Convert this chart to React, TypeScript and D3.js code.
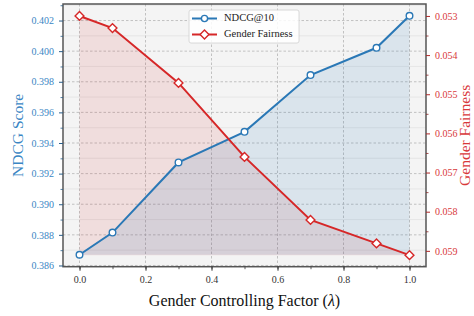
import React, { useEffect, useRef } from 'react';
import * as d3 from 'd3';

// values
const lambdas = [0.0, 0.1, 0.3, 0.5, 0.7, 0.9, 1.0];
const ndcg = [0.3867, 0.38815, 0.39273, 0.39473, 0.39844, 0.40022, 0.40231];
const fairness = [0.0530, 0.05331, 0.05471, 0.05660, 0.05821, 0.05881, 0.05911];
const xTicks = [0.0, 0.2, 0.4, 0.6, 0.8, 1.0];
const leftTicks = [0.386, 0.388, 0.39, 0.392, 0.394, 0.396, 0.398, 0.4, 0.402];
const rightTicks = [0.053, 0.054, 0.055, 0.056, 0.057, 0.058, 0.059];

const BLUE = '#2a78b6';
const RED = '#d62728';
const FONT = '"Liberation Serif", "Times New Roman", serif';

export default function App() {
  const ref = useRef<SVGSVGElement>(null);

  useEffect(() => {
    const width = 474, height = 316;
    const margin = { top: 4, right: 48, bottom: 49.3, left: 63 };
    const svg = d3.select(ref.current);
    svg.selectAll('*').remove();

    const x = d3.scaleLinear().domain([-0.05, 1.05]).range([margin.left, width - margin.right]);
    const yL = d3.scaleLinear().domain([0.38592, 0.40308]).range([height - margin.bottom, margin.top]);
    const yR = d3.scaleLinear().domain([0.052695, 0.059405]).range([margin.top, height - margin.bottom]);

    const x0 = margin.left, x1 = width - margin.right;
    const y0 = margin.top, y1 = height - margin.bottom;

    // background
    svg.append('rect').attr('x', x0).attr('y', y0).attr('width', x1 - x0).attr('height', y1 - y0).attr('fill', '#f4f4f4');

    // minor horizontal grid (left axis)
    const minorL = d3.range(0.387, 0.4031, 0.002);
    svg.append('g').selectAll('line').data(minorL).join('line')
      .attr('x1', x0).attr('x2', x1)
      .attr('y1', d => yL(d)).attr('y2', d => yL(d))
      .attr('stroke', '#e2e2e2').attr('stroke-width', 0.8);

    // major grid dashed
    const grid = svg.append('g').attr('stroke', '#b4b4b4').attr('stroke-width', 0.8).attr('stroke-dasharray', '2.5,2');
    grid.selectAll('line.h').data(leftTicks).join('line').attr('class', 'h')
      .attr('x1', x0).attr('x2', x1).attr('y1', d => yL(d)).attr('y2', d => yL(d));
    grid.selectAll('line.v').data(xTicks).join('line').attr('class', 'v')
      .attr('y1', y0).attr('y2', y1).attr('x1', d => x(d)).attr('x2', d => x(d));

    // fills
    const blueArea = d3.area<number>().x((d, i) => x(lambdas[i])).y0(yL(d3.min(ndcg)!)).y1(d => yL(d));
    const redArea = d3.area<number>().x((d, i) => x(lambdas[i])).y0(yR(d3.max(fairness)!)).y1(d => yR(d));
    svg.append('path').datum(fairness).attr('d', redArea).attr('fill', RED).attr('fill-opacity', 0.11);
    svg.append('path').datum(ndcg).attr('d', blueArea).attr('fill', '#1f77b4').attr('fill-opacity', 0.12);

    // lines
    const lineL = d3.line<number>().x((d, i) => x(lambdas[i])).y(d => yL(d));
    const lineR = d3.line<number>().x((d, i) => x(lambdas[i])).y(d => yR(d));
    svg.append('path').datum(ndcg).attr('d', lineL).attr('fill', 'none').attr('stroke', BLUE).attr('stroke-width', 2);
    svg.append('path').datum(fairness).attr('d', lineR).attr('fill', 'none').attr('stroke', RED).attr('stroke-width', 2);

    // markers
    svg.append('g').selectAll('circle').data(ndcg).join('circle')
      .attr('cx', (d, i) => x(lambdas[i])).attr('cy', d => yL(d)).attr('r', 3.3)
      .attr('fill', 'white').attr('stroke', BLUE).attr('stroke-width', 1.4);
    const diamond = d3.symbol().type(d3.symbolDiamond2).size(50);
    svg.append('g').selectAll('path').data(fairness).join('path')
      .attr('d', diamond)
      .attr('transform', (d, i) => `translate(${x(lambdas[i])},${yR(d)})`)
      .attr('fill', 'white').attr('stroke', RED).attr('stroke-width', 1.4);

    // frame
    svg.append('rect').attr('x', x0).attr('y', y0).attr('width', x1 - x0).attr('height', y1 - y0)
      .attr('fill', 'none').attr('stroke', '#555').attr('stroke-width', 1.5);

    // x axis
    const xAxis = svg.append('g').attr('transform', `translate(0,${y1})`);
    xAxis.call(d3.axisBottom(x).tickValues(d3.range(0.0, 1.05, 0.1)).tickSize(2.5).tickFormat(() => ''))
      .call(g => g.select('.domain').remove())
      .call(g => g.selectAll('line').attr('stroke', '#333').attr('stroke-width', 0.8));
    xAxis.append('g').call(d3.axisBottom(x).tickValues(xTicks).tickSize(4).tickPadding(5).tickFormat(d3.format('.1f')))
      .call(g => g.select('.domain').remove())
      .call(g => g.selectAll('line').attr('stroke', '#333').attr('stroke-width', 1))
      .call(g => g.selectAll('text').attr('fill', '#333').style('font-size', '10px').style('font-family', FONT));

    // left axis
    const lAxis = svg.append('g').attr('transform', `translate(${x0},0)`);
    lAxis.call(d3.axisLeft(yL).tickValues(d3.range(0.387, 0.4031, 0.002)).tickSize(2.5).tickFormat(() => ''))
      .call(g => g.select('.domain').remove())
      .call(g => g.selectAll('line').attr('stroke', '#2b5f8a').attr('stroke-width', 0.8));
    lAxis.append('g').call(d3.axisLeft(yL).tickValues(leftTicks).tickSize(4).tickPadding(5).tickFormat(d3.format('.3f')))
      .call(g => g.select('.domain').remove())
      .call(g => g.selectAll('line').attr('stroke', '#2b5f8a').attr('stroke-width', 1))
      .call(g => g.selectAll('text').attr('fill', '#3a86c4').style('font-size', '10px').style('font-family', FONT));

    // right axis
    const rAxis = svg.append('g').attr('transform', `translate(${x1},0)`);
    rAxis.call(d3.axisRight(yR).tickValues(d3.range(0.0525, 0.0594, 0.001)).tickSize(2.5).tickFormat(() => ''))
      .call(g => g.select('.domain').remove())
      .call(g => g.selectAll('line').attr('stroke', '#8a2a2a').attr('stroke-width', 0.8));
    rAxis.append('g').call(d3.axisRight(yR).tickValues(rightTicks).tickSize(4).tickPadding(5).tickFormat(d3.format('.3f')))
      .call(g => g.select('.domain').remove())
      .call(g => g.selectAll('line').attr('stroke', '#b02a2a').attr('stroke-width', 1))
      .call(g => g.selectAll('text').attr('fill', '#d8383a').style('font-size', '10px').style('font-family', FONT));

    // axis titles
    svg.append('text').attr('transform', `translate(19,${(y0 + y1) / 2}) rotate(-90)`)
      .attr('text-anchor', 'middle').attr('dominant-baseline', 'middle')
      .attr('fill', '#3a86c4').style('font-size', '15.5px').style('font-family', FONT).text('NDCG Score');
    svg.append('text').attr('transform', `translate(466,${(y0 + y1) / 2}) rotate(-90)`)
      .attr('text-anchor', 'middle').attr('dominant-baseline', 'middle')
      .attr('fill', '#d8383a').style('font-size', '15.5px').style('font-family', FONT).text('Gender Fairness');
    const xl = svg.append('text').attr('x', (x0 + x1) / 2).attr('y', 306)
      .attr('text-anchor', 'middle').attr('fill', '#111').style('font-size', '16px').style('font-family', FONT);
    xl.append('tspan').text('Gender Controlling Factor (');
    xl.append('tspan').attr('font-style', 'italic').text('λ');
    xl.append('tspan').text(')');

    // legend
    const lg = svg.append('g').attr('transform', 'translate(189,10)');
    lg.append('rect').attr('width', 110).attr('height', 33).attr('rx', 2)
      .attr('fill', 'white').attr('fill-opacity', 0.85).attr('stroke', '#d0d0d0').attr('stroke-width', 0.8);
    const items = [
      { label: 'NDCG@10', color: BLUE, shape: 'circle' },
      { label: 'Gender Fairness', color: RED, shape: 'diamond' },
    ];
    items.forEach((it, i) => {
      const cy = 8.5 + i * 16;
      lg.append('line').attr('x1', 3).attr('x2', 28).attr('y1', cy).attr('y2', cy)
        .attr('stroke', it.color).attr('stroke-width', 2);
      if (it.shape === 'circle') {
        lg.append('circle').attr('cx', 15.5).attr('cy', cy).attr('r', 3.1)
          .attr('fill', 'white').attr('stroke', it.color).attr('stroke-width', 1.4);
      } else {
        lg.append('path').attr('d', diamond).attr('transform', `translate(15.5,${cy})`)
          .attr('fill', 'white').attr('stroke', it.color).attr('stroke-width', 1.4);
      }
      lg.append('text').attr('x', 35).attr('y', cy).attr('dominant-baseline', 'middle')
        .attr('fill', '#222').style('font-size', '10.5px').style('font-family', FONT).text(it.label);
    });
  }, []);

  return (
    <svg ref={ref} width={474} height={316}
      style={{ position: 'absolute', left: 0, top: 0, background: 'white' }} />
  );
}
